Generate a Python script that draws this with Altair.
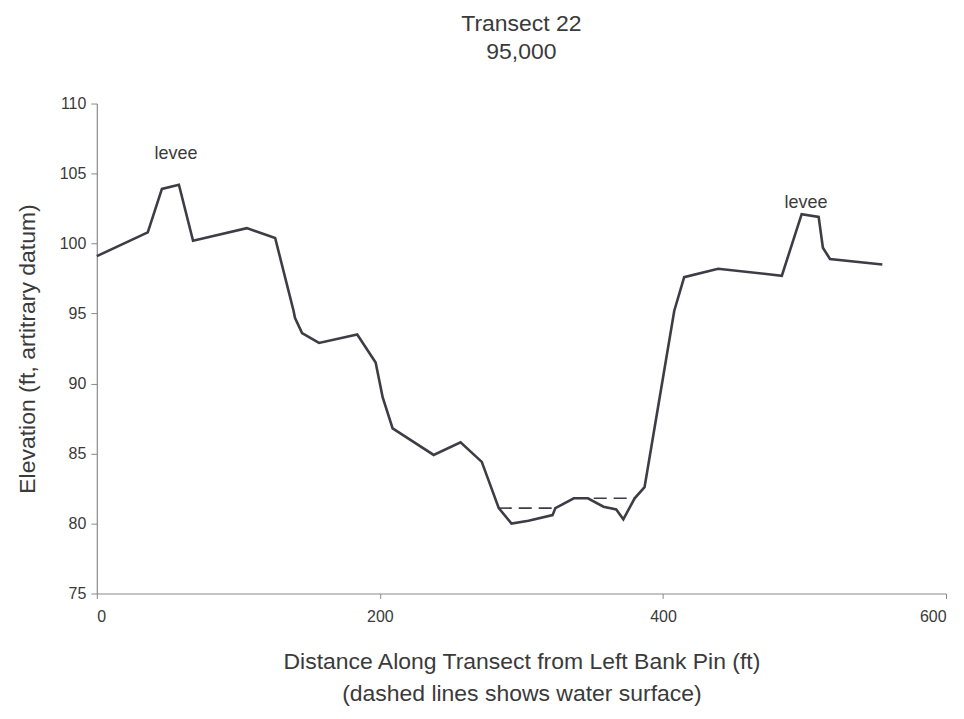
import altair as alt
import pandas as pd

# Bed profile (distance ft, elevation ft)
dist = [0, 36, 46, 58, 68, 106, 126, 139, 140, 145, 157, 184, 197, 202, 209,
        238, 257, 272, 284, 293, 305, 322, 324, 337, 347, 358, 367, 372, 380,
        387, 400, 408, 415, 439, 484, 498, 510, 513, 518, 555]
elev = [99.1, 100.8, 103.9, 104.2, 100.2, 101.1, 100.4, 95.2, 94.7, 93.6,
        92.9, 93.5, 91.5, 89.0, 86.8, 84.9, 85.8, 84.4, 81.1, 80.0, 80.2,
        80.6, 81.1, 81.8, 81.8, 81.2, 81.0, 80.3, 81.8, 82.6, 90.4, 95.2,
        97.6, 98.2, 97.7, 102.1, 101.9, 99.7, 98.9, 98.5]

# Water surface (dashed) segments
ws_dist = [284, 324, 337, 380]
ws_elev = [81.1, 81.1, 81.8, 81.8]
ws_seg = ["a", "a", "b", "b"]

# Annotations
lab_text = ["levee", "levee"]
lab_x = [56, 501]
lab_y = [106.4, 102.9]

FONT = "Liberation Sans"
LINE = "#3d3d45"
TEXT = "#3a3a3a"

bed = pd.DataFrame({"d": dist, "e": elev})
ws = pd.DataFrame({"d": ws_dist, "e": ws_elev, "s": ws_seg})
labs = pd.DataFrame({"t": lab_text, "d": lab_x, "e": lab_y})

xscale = alt.Scale(domain=[0, 600], nice=False, zero=False)
yscale = alt.Scale(domain=[75, 110], nice=False, zero=False)

xaxis = alt.Axis(
    title=["Distance Along Transect from Left Bank Pin (ft)",
           "(dashed lines shows water surface)"],
    values=[0, 200, 400, 600], grid=False, tickSize=5, labelPadding=10,
    titlePadding=26, labelFontSize=16, titleFontSize=23,
    titleFontWeight="normal", titleLineHeight=32,
)
yaxis = alt.Axis(
    title="Elevation (ft, artitrary datum)",
    values=[75, 80, 85, 90, 95, 100, 105, 110], grid=False, tickSize=6,
    labelPadding=5, titlePadding=20, labelFontSize=16, titleFontSize=23,
    titleFontWeight="normal",
)

bed_line = alt.Chart(bed).mark_line(color=LINE, strokeWidth=2.6).encode(
    x=alt.X("d:Q", scale=xscale, axis=xaxis),
    y=alt.Y("e:Q", scale=yscale, axis=yaxis),
    order="d:Q",
)

ws_line = alt.Chart(ws).mark_line(
    color=LINE, strokeWidth=1.6, strokeDash=[13, 7]
).encode(
    x=alt.X("d:Q", scale=xscale),
    y=alt.Y("e:Q", scale=yscale),
    detail="s:N",
)

labels = alt.Chart(labs).mark_text(
    font=FONT, fontSize=18, color=TEXT, align="center", baseline="middle"
).encode(
    x=alt.X("d:Q", scale=xscale),
    y=alt.Y("e:Q", scale=yscale),
    text="t:N",
)

chart = (bed_line + ws_line + labels).properties(
    width=851,
    height=491,
    title=alt.TitleParams(
        text=["Transect 22", "95,000"], anchor="middle", fontSize=23,
        fontWeight="normal", font=FONT, color=TEXT, lineHeight=28, offset=32,
    ),
    autosize=alt.AutoSizeParams(type="none"),
    padding={"left": 89, "top": 95, "right": 10, "bottom": 117},
    background="white",
).configure_view(stroke=None).configure_axis(
    labelFont=FONT, titleFont=FONT, labelColor=TEXT, titleColor=TEXT,
    domainColor="#8a8a8a", tickColor="#8a8a8a", domainWidth=1.2,
)

chart.save("out.html", embed_options={"renderer": "svg", "actions": False})
